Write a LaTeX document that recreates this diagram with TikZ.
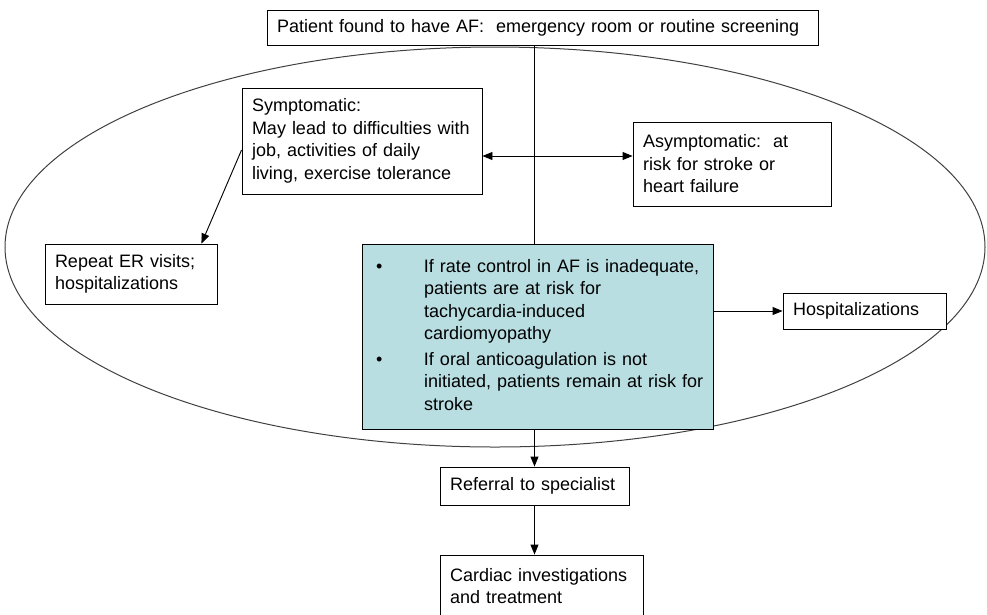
\documentclass[tikz,border=0pt]{standalone}
\usepackage{fontspec}
\setmainfont{Liberation Sans}
\usetikzlibrary{arrows.meta, positioning, calc}
\definecolor{rateblue}{RGB}{184,222,226}

\begin{document}
\begin{tikzpicture}[
    x=1pt, y=-1pt,
    font=\fontsize{18}{22.5}\selectfont,
    box/.style={rectangle, draw, fill=white, line width=0.9pt, align=left, inner xsep=10pt, inner ysep=0pt},
    arrow/.style={-{Triangle[length=10pt, width=8pt]}, line width=0.9pt},
    twoway/.style={{Triangle[length=10pt, width=8pt]}-{Triangle[length=10pt, width=8pt]}, line width=0.9pt}
]
\useasboundingbox (0,0) rectangle (987,614);
% outer ellipse
\draw[line width=1pt, black!75] (495,247) ellipse [x radius=490pt, y radius=200pt];

\node[box, text width=531pt, minimum height=35pt] (top) at (542.5,27.5) {Patient found to have AF:\ \ emergency room or routine screening};
\node[box, text width=220pt, minimum height=106pt] (sym) at (362,141) {Symptomatic:\\May lead to difficulties with\\job, activities of daily\\living, exercise tolerance};
\node[box, text width=178pt, minimum height=84pt] (asym) at (732,164) {Asymptomatic:\ \ at\\risk for stroke or\\heart failure};
\node[box, text width=152pt, minimum height=60pt] (rep) at (131,274) {Repeat ER visits;\\hospitalizations};
\node[box, fill=rateblue, text width=331pt, minimum height=185pt] (rate) at (537.5,336.5) {%
  \begin{tabular}{@{}p{52pt}@{}l@{}}
  \hspace*{4pt}• & If rate control in AF is inadequate,\\
   & patients are at risk for\\
   & tachycardia-induced\\
   & cardiomyopathy\\[3pt]
  \hspace*{4pt}• & If oral anticoagulation is not\\
   & initiated, patients remain at risk for\\
   & stroke
  \end{tabular}};
\node[box, text width=143pt, minimum height=36pt] (hosp) at (864.5,311) {Hospitalizations};
\node[box, text width=169pt, minimum height=38pt] (ref) at (534.5,486) {\mbox{Referral to specialist}};
\node[box, text width=183pt, minimum height=62pt] (card) at (541.5,586) {Cardiac investigations\\and treatment};

% connectors
\draw[line width=0.9pt] (top.south -| ref.north) -- (rate.north -| ref.north);
\draw[twoway] ([yshift=-15pt]sym.east) -- ([yshift=-15pt]sym.east -| asym.west);
\draw[arrow] ([yshift=-9pt]sym.west) -- ([xshift=-16pt]rep.north east);
\draw[arrow] (hosp.west -| rate.east) -- (hosp.west);
\draw[arrow] (rate.south -| ref.north) -- (ref.north);
\draw[arrow] (ref.south) -- (card.north -| ref.south);
\end{tikzpicture}
\end{document}
